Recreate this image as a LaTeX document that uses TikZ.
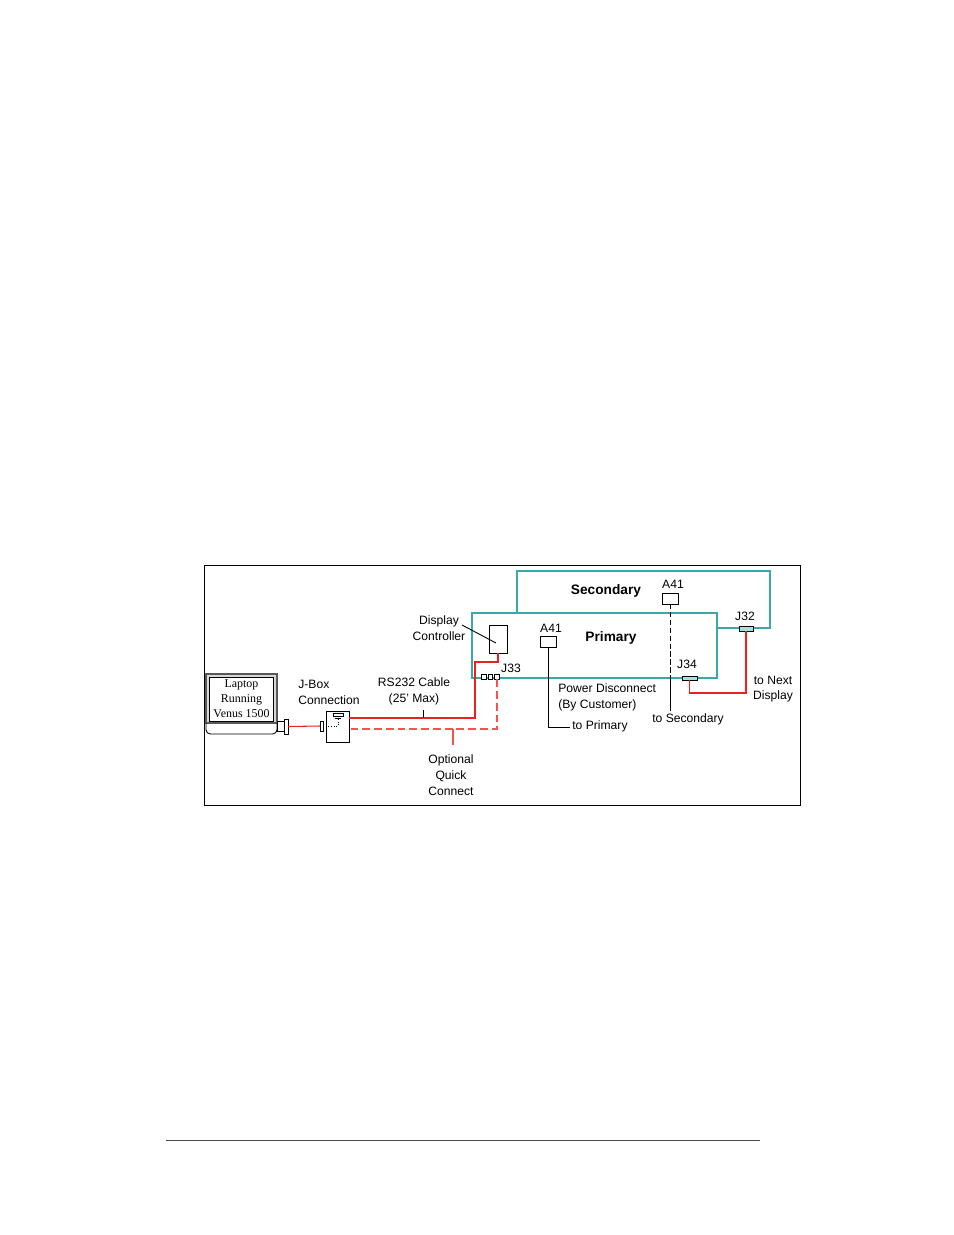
\documentclass[tikz,border=0pt]{standalone}
\usepackage{fontspec}
\setmainfont{Liberation Sans}
\newfontfamily\laptopfont{Liberation Serif}
\definecolor{unitteal}{RGB}{56,168,168}
\definecolor{cablered}{RGB}{240,30,30}
\definecolor{quickred}{RGB}{250,80,80}
\tikzset{
  lbl/.style={font=\fontsize{6.9}{9}\selectfont, inner sep=0pt, align=center},
  unitlbl/.style={font=\fontsize{7.8}{9}\selectfont\bfseries, inner sep=0pt},
  unit/.style={draw=unitteal, line width=0.6pt},
  cable/.style={draw=cablered, line width=0.6pt},
  quick/.style={draw=quickred, line width=0.6pt, dash pattern=on 4.5pt off 2.2pt},
  feed/.style={line width=0.5pt},
  part/.style={draw, line width=0.5pt, fill=white, inner sep=0pt, outer sep=0pt},
  port/.style={draw, line width=0.45pt, fill=unitteal!40, inner sep=0pt, outer sep=0pt},
}
\begin{document}
\begin{tikzpicture}[x=0.02cm, y=-0.02cm]
\useasboundingbox (0,0) rectangle (954,1235);
% frame and page rule
\draw[line width=0.5pt] (204,565) rectangle (800,805);
\draw[line width=0.5pt, black!70] (166,1140) -- (760,1140);

% display units
\draw[unit] (517,613) |- (770,571) |- (717,628);
\draw[unit] (472,613) rectangle (717,678);
\node[unitlbl] (sec) at (606,591) {Secondary};
\node[unitlbl] (pri) at (611,638) {Primary};

% laptop
\draw[line width=0.8pt, draw=black!65, fill=black!15] (206,674) rectangle (277,723);
\draw[line width=0.5pt, fill=white] (209.5,677) rectangle (273.5,721);
\draw[line width=1pt] (209.5,721.5) -- (273.5,721.5);
\draw[line width=0.5pt, rounded corners=2.5pt] (206,723) -- (206,734) -- (277,734) -- (277,723);
\node[lbl, font=\fontsize{6.8}{8.5}\selectfont\laptopfont] (lap) at (241.5,699) {Laptop\\Running\\Venus 1500};
\node[part, minimum width=0.14cm, minimum height=0.2cm] (lapp) at (280.5,726.5) {};
\node[part, minimum width=0.08cm, minimum height=0.3cm] (lapc) at (286,726.5) {};

% j-box
\node[part, minimum width=0.46cm, minimum height=0.62cm] (jb) at (337.5,726.5) {};
\node[part, minimum width=0.2cm, minimum height=0.06cm] (jbt) at (338.5,714.5) {};
\node[part, minimum width=0.06cm, minimum height=0.2cm] (jbc) at (321.5,726) {};
\draw[line width=0.5pt, densely dotted] (jbc.east) -| (338,719);
\draw[line width=0.5pt] (335,718.5) -- (341,718.5);
\node[lbl, align=left, anchor=west] (jbl) at (298,692) {J-Box\\Connection};
\coordinate (rsin) at (349,718);
\coordinate (qcin) at (349,729);

% display controller and J33
\node[part, minimum width=0.36cm, minimum height=0.56cm] (dc) at (498,639) {};
\node[lbl] (dcl) at (439,628) {Display\\Controller};
\draw[feed] (462,625) -- (496,643);
\foreach \x/\n in {484/a, 490.5/b, 497/c}
  \node[part, minimum width=0.09cm, minimum height=0.09cm] (j33\n) at (\x,677) {};
\node[lbl] (j33l) at (511,668) {J33};

% A41 units
\node[part, minimum width=0.32cm, minimum height=0.22cm] (apri) at (548,641.5) {};
\node[lbl] at (551,628) {A41};
\node[part, minimum width=0.32cm, minimum height=0.22cm] (asec) at (670,598.5) {};
\node[lbl] at (673,584) {A41};

% J32 / J34
\node[port, minimum width=0.28cm, minimum height=0.1cm] (j32) at (746,628.5) {};
\node[lbl] at (745,616) {J32};
\node[port, minimum width=0.3cm, minimum height=0.08cm] (j34) at (689.5,678) {};
\node[lbl] at (687,664) {J34};

% cables
\draw[cable] (lapc.east) -- (jbc.west);
\draw[cable] (dc.south) |- (475,662) |- (rsin);
\draw[feed] (423,710) -- (423,718);
\node[lbl] (rsl) at (414,691) {RS232 Cable\\(25' Max)};
\draw[quick] (j33c.south) |- (qcin);
\draw[cable, draw=quickred] (453,729) -- (453,745);
\node[lbl, align=center] (qcl) at (451,775) {Optional\\Quick\\Connect};
\draw[cable] (j34.south) -- ++(0,13) -| (j32.south);
\node[lbl] (nxt) at (773,689) {to Next\\Display};

% power disconnect
\draw[feed] (apri.south) |- (570,727);
\node[lbl, anchor=west] at (572,726) {to Primary};
\draw[feed, dash pattern=on 3pt off 1.5pt] (asec.south) -- (670,678);
\draw[feed] (670,678) -- (670,711);
\node[lbl] at (688,719) {to Secondary};
\node[lbl, align=left, anchor=west] (pdl) at (558,697) {Power Disconnect\\(By Customer)};
\end{tikzpicture}
\end{document}
